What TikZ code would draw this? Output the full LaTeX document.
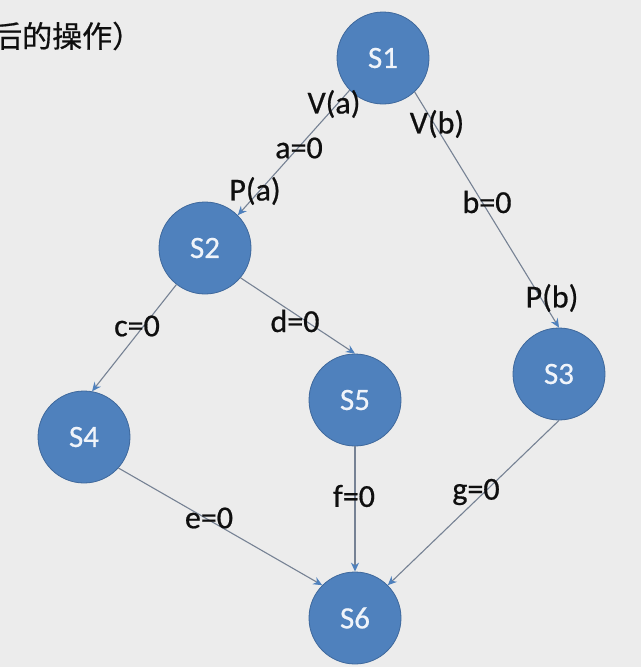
\documentclass[tikz,border=0pt]{standalone}
\usepackage{fontspec}
\setmainfont{Carlito}
\newfontfamily\lblfont{Carlito}[FakeBold=0.6]
\newfontfamily\cjk{Noto Sans CJK SC}[FakeBold=0.6]
\usetikzlibrary{arrows.meta}
\definecolor{bgc}{RGB}{236,236,236}
\definecolor{nodeblue}{RGB}{79,129,189}
\definecolor{nodeedge}{RGB}{62,104,156}
\definecolor{linec}{RGB}{118,130,148}
\definecolor{txtc}{RGB}{15,15,15}
\definecolor{ntxt}{RGB}{240,244,250}
\tikzset{
  state/.style={circle, fill=nodeblue, draw=nodeedge, line width=0.8pt,
    minimum size=92pt, inner sep=0pt, text=ntxt,
    font=\lblfont\fontsize{31}{32}\selectfont},
  lbl/.style={inner sep=0pt, text=txtc, font=\lblfont\fontsize{32}{34}\selectfont},
  conn/.style={draw=linec, line width=1.1pt,
    -{Stealth[length=9pt,width=8pt,color=nodeblue]}},
}
\begin{document}
\begin{tikzpicture}[x=1pt,y=-1pt]
\useasboundingbox (0,0) rectangle (641,667);
\fill[bgc] (0,0) rectangle (641,667);
\node[inner sep=0pt, anchor=west, text=txtc, font=\cjk\fontsize{30}{32}\selectfont] (title) at (-8,36) {后的操作）};

\node[state] (S1) at (383,58) {S1};
\node[state] (S2) at (205,248) {S2};
\node[state] (S3) at (559,374) {S3};
\node[state] (S4) at (84,437) {S4};
\node[state] (S5) at (355,400) {S5};
\node[state] (S6) at (355,618) {S6};

\draw[conn] (S1.-136) -- (S2.45);
\draw[conn] (S1.-47) -- (S3.north);
\draw[conn] (S2.-128) -- (S4.80);
\draw[conn] (S2.-40) -- (S5.north);
\draw[conn] (S4.-42) -- (S6.135);
\draw[conn] (S5.south) -- (S6.north);
\draw[conn] (S3.south) -- (S6.45);

\node[lbl] (la1) at (334,104) {V(a)};
\node[lbl] (la2) at (299,148) {a=0};
\node[lbl] (la3) at (255,191) {P(a)};
\node[lbl] (lb1) at (437,124) {V(b)};
\node[lbl] (lb2) at (487,202) {b=0};
\node[lbl] (lb3) at (552,298) {P(b)};
\node[lbl] (lc) at (137,326) {c=0};
\node[lbl] (ld) at (295,321) {d=0};
\node[lbl] (le) at (209,518) {e=0};
\node[lbl] (lf) at (354,496) {f=0};
\node[lbl] (lg) at (476,492) {g=0};
\end{tikzpicture}
\end{document}
